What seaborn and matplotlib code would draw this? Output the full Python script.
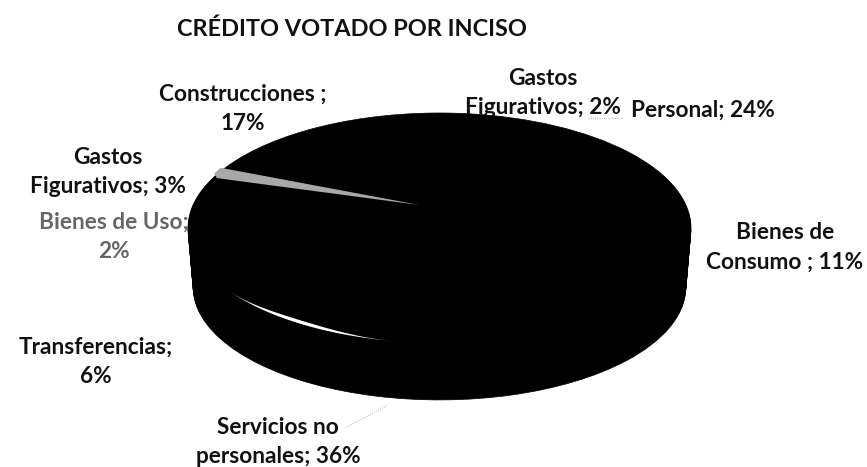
import numpy as np
import matplotlib
matplotlib.use("Agg")
import matplotlib.pyplot as plt
import seaborn as sns

categorias = ["Personal", "Bienes de Consumo", "Servicios no personales", "Transferencias",
              "Bienes de Uso", "Gastos Figurativos", "Construcciones", "Gastos Figurativos"]
valores = [24, 11, 36, 6, 2, 3, 17, 2]
etiquetas = ["Personal; 24%", "Bienes de\nConsumo ; 11%", "Servicios no\npersonales; 36%", "Transferencias;\n6%",
             "Bienes de Uso;\n2%", "Gastos\nFigurativos; 3%", "Construcciones ;\n17%", "Gastos\nFigurativos; 2%"]
titulo = "CRÉDITO VOTADO POR INCISO"

W, H = 867, 467

sns.set_theme(style="white")
plt.rcParams["font.family"] = ["Lato", "DejaVu Sans"]

fig = plt.figure(figsize=(W / 100, H / 100), dpi=100, facecolor="white")

# pie top spans x 188-691, y 113-343; the rim goes down to y 400
ax = fig.add_axes([188 / W, 1 - 400 / H, 503 / W, 287 / H], zorder=2)
ax.patch.set_alpha(0)
colores = sns.color_palette(["#000000"] * len(valores))
profundidad = 0.516

# stacked pies make the rim of the 3D pie, a bit narrower towards the bottom
for d in np.linspace(profundidad, 0, 40):
    wedges, _ = ax.pie(valores, colors=colores, startangle=84, counterclock=False,
                       center=(0, -d), radius=1 - 0.04 * d,
                       wedgeprops=dict(edgecolor="black", linewidth=0.5))
    for w in wedges:
        w.set_clip_on(False)

ax.set_aspect("auto")
ax.set_xlim(-1, 1)
ax.set_ylim(-1.496, 1)
ax.axis("off")

# grey seam at the Construcciones edge (wedges are those of the top pie)
ang = np.radians(wedges[6].theta2)
rim = np.array([np.cos(ang), np.sin(ang)])
ax.fill([rim[0] - 0.015, rim[0] + 0.01, -0.08, rim[0] - 0.005],
        [rim[1] - 0.0, rim[1] + 0.05, 0.2, rim[1] - 0.04],
        color="#a8a8a8", lw=0, clip_on=False, zorder=5)

# white highlight on the lower left edge of the top face
t = np.radians(np.linspace(213, 260, 80))
grosor = 0.025 * np.sin(np.linspace(0, np.pi, 80)) ** 2
ax.fill(np.r_[np.cos(t), np.cos(t[::-1]) * (1 - grosor[::-1])],
        np.r_[np.sin(t), np.sin(t[::-1]) * (1 - grosor[::-1])],
        color="white", lw=0, clip_on=False, zorder=5)


def px(x, y):
    return x / W, 1 - y / H


# label centres in pixels, same order as etiquetas
centros = [(703, 110), (785, 247), (278, 442), (96, 362), (114, 237), (108, 172), (243, 109), (543, 93)]
grises = ["#111111", "#111111", "#111111", "#111111", "#666666", "#111111", "#111111", "#111111"]

for txt, (x, y), c in zip(etiquetas, centros, grises):
    fx, fy = px(x, y)
    # the 2% label sits under the pie, as in the original
    fig.text(fx, fy, txt, ha="center", va="center", fontsize=16.3, fontweight="bold",
             color=c, linespacing=1.52, zorder=1)

fx, fy = px(352, 29)
fig.text(fx, fy, titulo, ha="center", va="center", fontsize=16.9, fontweight="bold", color="#111111")

# faint leader lines
for (xa, ya), (xb, yb) in [((345, 428), (388, 405)), ((588, 118), (622, 118))]:
    x0, y0 = px(xa, ya)
    x1, y1 = px(xb, yb)
    fig.add_artist(plt.Line2D([x0, x1], [y0, y1], color="#999999", lw=0.6, ls=":"))

fig.savefig("out.png", dpi=100)
